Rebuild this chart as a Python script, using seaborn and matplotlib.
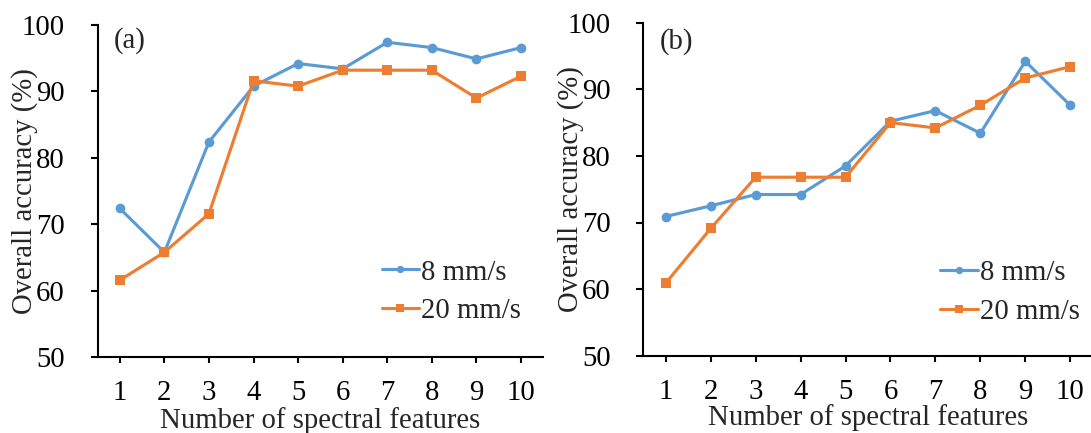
import matplotlib
matplotlib.use("Agg")
import matplotlib.pyplot as plt
import numpy as np
import pandas as pd
import seaborn as sns

# ---- data ----
features = list(range(1, 11))
speed_labels = ["8 mm/s", "20 mm/s"]
acc_a_8 = [72.4, 65.8, 82.4, 90.8, 94.2, 93.4, 97.4, 96.6, 94.9, 96.6]
acc_a_20 = [61.6, 65.8, 71.6, 91.6, 90.8, 93.2, 93.2, 93.2, 89.0, 92.3]
acc_b_8 = [70.9, 72.5, 74.2, 74.2, 78.5, 85.2, 86.8, 83.4, 94.2, 87.6]
acc_b_20 = [60.9, 69.1, 76.8, 76.8, 76.8, 85.0, 84.2, 87.6, 91.7, 93.4]
y_ticks = [50, 60, 70, 80, 90, 100]
panel_labels = ["(a)", "(b)"]
x_label = "Number of spectral features"
y_label = "Overall accuracy (%)"

FS = 20.7
sns.set_style("ticks")
plt.rcParams["font.family"] = ["Liberation Serif", "DejaVu Serif"]
plt.rcParams["font.size"] = FS

colors = {"8 mm/s": "#5B9BD5", "20 mm/s": "#ED7D31"}
markers = {"8 mm/s": "o", "20 mm/s": "s"}

fig = plt.figure(figsize=(10.91, 4.33), dpi=100)
W, H = 1091, 433
boxes = [(97.5, 25.0, 543.3, 357.3), (643.3, 22.7, 1092.7, 355.7)]
legend_anchor = [(0.6375, 0.197), (0.661, 0.19)]
xlabel_y = [-0.150, -0.146]
ylabel_x = [-0.133, -0.132]
plabel_pos = [(0.037, 0.952), (0.037, 0.942)]

panels = [(acc_a_8, acc_a_20), (acc_b_8, acc_b_20)]

for i, (s8, s20) in enumerate(panels):
    l, t, r, b = boxes[i]
    ax = fig.add_axes([l / W, (H - b) / H, (r - l) / W, (b - t) / H])
    df = pd.DataFrame({
        "features": features + features,
        "accuracy": list(s8) + list(s20),
        "speed": [speed_labels[0]] * len(features) + [speed_labels[1]] * len(features),
    })
    sns.lineplot(data=df, x="features", y="accuracy", hue="speed", style="speed",
                 hue_order=speed_labels, style_order=speed_labels,
                 palette=colors, markers=markers, dashes=False,
                 linewidth=2.25, markersize=7, markeredgewidth=0, ax=ax)
    ax.set_xlim(0.5, 10.5)
    ax.set_ylim(50, 100)
    ax.set_xticks(features)
    ax.set_xticklabels([str(f) for f in features])
    ax.set_yticks(y_ticks)
    ax.set_yticklabels([str(v) for v in y_ticks])
    sns.despine(ax=ax)
    for sp in ("left", "bottom"):
        ax.spines[sp].set_linewidth(1.5)
        ax.spines[sp].set_color("black")
    ax.tick_params(axis="y", direction="out", length=5, width=1.5, pad=18.5,
                   labelsize=FS, colors="black")
    ax.tick_params(axis="x", direction="out", length=4.3, width=1.5, pad=12.2,
                   labelsize=FS, colors="black")
    ax.set_xlabel(x_label, fontsize=FS)
    ax.set_ylabel(y_label, fontsize=FS)
    ax.xaxis.set_label_coords(0.5, xlabel_y[i])
    ax.yaxis.set_label_coords(ylabel_x[i], 0.5)
    px, py = plabel_pos[i]
    ax.text(px, py, panel_labels[i], transform=ax.transAxes, fontsize=FS,
            ha="left", va="center")
    sns.move_legend(ax, loc="center left", bbox_to_anchor=legend_anchor[i],
                    frameon=False, title=None, fontsize=FS, borderpad=0,
                    borderaxespad=0, handlelength=1.3, handletextpad=0.08,
                    labelspacing=0.44, markerscale=0.75)

fig.savefig("out.png", dpi=100)
